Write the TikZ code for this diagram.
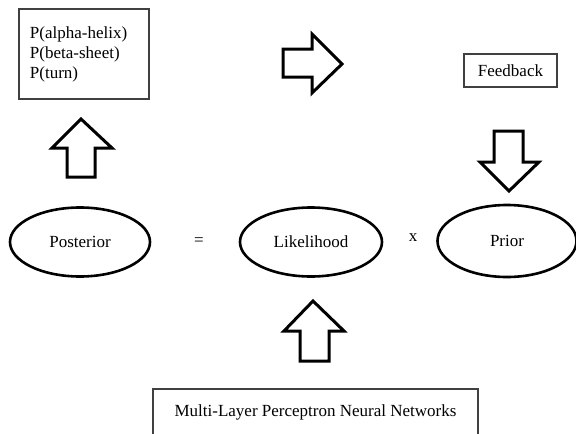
\documentclass[tikz,border=0pt]{standalone}
\usepackage{fontspec}
\setmainfont{Liberation Serif}
\usetikzlibrary{shapes.geometric}
\definecolor{boxline}{HTML}{404040}
\tikzset{
  txt/.style={font=\fontsize{17}{20}\selectfont},
  plainbox/.style={draw=boxline, line width=1.2pt, txt, inner sep=0pt},
  oval/.style={draw=black, line width=2.6pt, ellipse, inner sep=0pt, txt},
  blockarrow/.style={draw=black, line width=3pt, line join=miter, fill=white},
}
\begin{document}
\begin{tikzpicture}[x=1pt,y=-1pt]
\useasboundingbox (0,0) rectangle (576,434);
% boxes
\node[plainbox, minimum width=130, minimum height=90, text width=108, align=left] (probs) at (84,54)
  {P(alpha-helix)\\P(beta-sheet)\\P(turn)};
\node[plainbox, minimum width=93, minimum height=33] (feedback) at (510.5,70.5) {Feedback};
\node[plainbox, minimum width=325, minimum height=52] (mlp) at (315.5,415) {};
\node[txt] (mlptext) at (315.5,412) {Multi-Layer Perceptron Neural Networks};
% ellipses
\node[oval, minimum width=140, minimum height=69] (posterior) at (80,242) {Posterior};
\node[oval, minimum width=142, minimum height=69] (likelihood) at (311,242) {Likelihood};
\node[oval, minimum width=139, minimum height=72] (prior) at (507,241) {Prior};
\node[txt] (eq) at (199,242) {=};
\node[txt] (times) at (413,238) {x};
% block arrows
\draw[blockarrow] (81,119) -- (112,148) -- (95,148) -- (95,177) -- (67,177) -- (67,148) -- (52,148) -- cycle;
\draw[blockarrow] (342,64) -- (312,93) -- (312,77) -- (283,77) -- (283,49) -- (312,49) -- (312,34) -- cycle;
\draw[blockarrow] (509,191) -- (480,162) -- (494,162) -- (494,131) -- (523,131) -- (523,162) -- (539,162) -- cycle;
\draw[blockarrow] (313,301) -- (344,331) -- (329,331) -- (329,361) -- (300,361) -- (300,331) -- (284,331) -- cycle;
\end{tikzpicture}
\end{document}
